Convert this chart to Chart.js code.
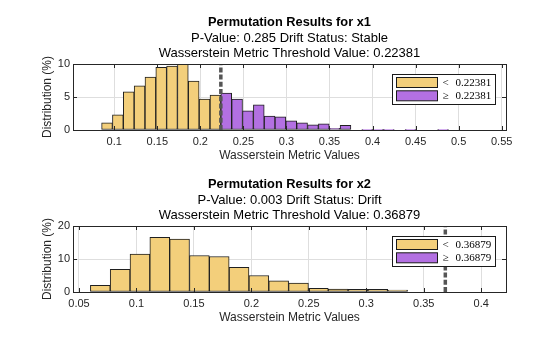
<!DOCTYPE html>
<html lang="en">
<head>
  <meta charset="UTF-8">
  <title>Permutation Results</title>
  <script src="https://cdn.jsdelivr.net/npm/chart.js"></script>
  <style>
    body {
      margin: 0;
      background: #fff;
    }
    .panel {
      position: absolute;
      left: 0;
      width: 560px;
    }
  </style>
</head>
<body>
  <div class="panel" style="top: 0px;"><canvas id="chartX1" width="560" height="166"></canvas></div>
  <div class="panel" style="top: 162px;"><canvas id="chartX2" width="560" height="166"></canvas></div>

  <script>
    // x1 histogram (percent of permutations per bin)
    const binEdgesX1 = [0.0853, 0.0979, 0.1105, 0.1231, 0.1357, 0.1483, 0.1608, 0.1734, 0.1860, 0.1986,
      0.2112, 0.2238, 0.2364, 0.2490, 0.2616, 0.2742, 0.2867, 0.2993, 0.3119, 0.3245, 0.3371,
      0.3497, 0.3623, 0.3749, 0.3875, 0.4001, 0.4126, 0.4252, 0.4378, 0.4504, 0.4630, 0.4756, 0.4882];
    const belowX1 = [1.1, 2.3, 5.8, 6.7, 8.0, 9.5, 9.7, 10.0, 7.4, 4.7, 5.3];
    const aboveX1 = [5.6, 4.7, 2.9, 3.8, 2.1, 2.0, 1.4, 1.1, 0.8, 0.95, 0.25, 0.7, 0, 0.1, 0.1, 0.1, 0, 0.1, 0, 0, 0.1];
    const thresholdX1 = 0.22381;
    const xTicksX1 = [0.1, 0.15, 0.2, 0.25, 0.3, 0.35, 0.4, 0.45, 0.5, 0.55];
    const yTicksX1 = [0, 5, 10];

    // x2 histogram
    const binEdgesX2 = [0.0599, 0.0772, 0.0944, 0.1117, 0.1289, 0.1462, 0.1634, 0.1807, 0.1979,
      0.2152, 0.2324, 0.2497, 0.2669, 0.2842, 0.3014, 0.3187, 0.3359];
    const belowX2 = [2.0, 6.9, 11.5, 16.6, 16.0, 11.05, 10.75, 7.5, 5.0, 3.35, 2.7, 1.1, 0.9, 0.8, 0.8, 0.6];
    const aboveX2 = [];
    const thresholdX2 = 0.36879;
    const xTicksX2 = [0.05, 0.1, 0.15, 0.2, 0.25, 0.3, 0.35, 0.4];
    const yTicksX2 = [0, 10, 20];

    const yellow = '#F3CF7B';
    const purple = '#B370E2';
    const axisColor = '#262626';

    function toBars(edges, values, offset) {
      return values.map((v, i) => ({ x: (edges[offset + i] + edges[offset + i + 1]) / 2, y: v }));
    }

    // box, inward tick marks and legend like the MATLAB axes
    const axesDecor = {
      id: 'axesDecor',
      afterDraw(chart, args, opts) {
        const { ctx, chartArea: a, scales } = chart;
        ctx.save();
        ctx.strokeStyle = axisColor;
        ctx.lineWidth = 1;
        ctx.strokeRect(Math.round(a.left) + 0.5, Math.round(a.top) + 0.5,
          Math.round(a.right - a.left), Math.round(a.bottom - a.top));
        ctx.beginPath();
        scales.x.ticks.forEach(t => {
          const px = Math.round(scales.x.getPixelForValue(t.value)) + 0.5;
          ctx.moveTo(px, a.bottom); ctx.lineTo(px, a.bottom - 4);
          ctx.moveTo(px, a.top); ctx.lineTo(px, a.top + 4);
        });
        scales.y.ticks.forEach(t => {
          const py = Math.round(scales.y.getPixelForValue(t.value)) + 0.5;
          ctx.moveTo(a.left, py); ctx.lineTo(a.left + 4, py);
          ctx.moveTo(a.right, py); ctx.lineTo(a.right - 4, py);
        });
        ctx.stroke();

        // legend
        const w = 103, h = 30;
        const bx = Math.round(a.right - 10.7 - w) + 0.5;
        const by = Math.round(a.top + 10.3) + 0.5;
        ctx.fillStyle = '#fff';
        ctx.fillRect(bx, by, w, h);
        ctx.strokeStyle = '#1a1a1a';
        ctx.strokeRect(bx, by, w, h);
        const items = [
          { color: yellow, sym: '<' },
          { color: purple, sym: '\u2265' }
        ];
        ctx.font = '11px "Liberation Serif", "DejaVu Serif", serif';
        ctx.textBaseline = 'middle';
        items.forEach((it, i) => {
          const sy = by + 3 + i * 13.3;
          ctx.fillStyle = it.color;
          ctx.fillRect(bx + 4, sy, 41, 10);
          ctx.strokeStyle = '#1a1a1a';
          ctx.strokeRect(bx + 4, sy, 41, 10);
          ctx.fillStyle = '#000';
          ctx.textAlign = 'left';
          ctx.fillText(it.sym, bx + 50, sy + 5.5);
          ctx.fillText(opts.threshold.toFixed(5), bx + 63, sy + 5.5);
        });
        ctx.restore();
      }
    };

    function makeChart(id, cfg) {
      const xTicks = cfg.xTicks, yTicks = cfg.yTicks;
      return new Chart(document.getElementById(id), {
        type: 'bar',
        data: {
          datasets: [
            {
              type: 'line',
              label: 'threshold',
              data: [{ x: cfg.threshold, y: 0 }, { x: cfg.threshold, y: yTicks[yTicks.length - 1] }],
              borderColor: '#555555',
              borderWidth: 3.5,
              borderDash: [5, 2.2],
              pointRadius: 0,
              order: -1
            },
            {
              label: '< ' + cfg.threshold,
              data: toBars(cfg.edges, cfg.below, 0),
              backgroundColor: yellow,
              borderColor: '#1f1f1f',
              borderWidth: 1,
              borderSkipped: false,
              grouped: false,
              categoryPercentage: 1,
              barPercentage: 1
            },
            {
              label: '\u2265 ' + cfg.threshold,
              data: toBars(cfg.edges, cfg.above, cfg.below.length),
              backgroundColor: purple,
              borderColor: '#1f1f1f',
              borderWidth: 1,
              borderSkipped: false,
              grouped: false,
              categoryPercentage: 1,
              barPercentage: 1
            }
          ]
        },
        options: {
          responsive: false,
          animation: false,
          devicePixelRatio: 1,
          layout: { padding: { left: 0, right: 54, top: 0, bottom: 0 } },
          plugins: {
            legend: { display: false },
            tooltip: { enabled: false },
            title: {
              display: true,
              fullSize: false,
              text: cfg.title,
              color: '#000',
              font: { family: 'Liberation Sans', size: 12.8, weight: 'bold', lineHeight: 1.2 },
              padding: { top: 15, bottom: 1 }
            },
            subtitle: {
              display: true,
              fullSize: false,
              text: cfg.subtitle,
              color: '#000',
              font: { family: 'Liberation Sans', size: 13, lineHeight: 1.14 },
              padding: { top: 0, bottom: 3 }
            },
            axesDecor: { threshold: cfg.threshold }
          },
          scales: {
            x: {
              type: 'linear',
              min: cfg.xMin,
              max: cfg.xMax,
              offset: false,
              afterBuildTicks: s => { s.ticks = xTicks.map(v => ({ value: v })); },
              afterFit: s => { s.height = 36; },
              grid: { offset: false, color: '#dedede', drawTicks: false },
              border: { display: false },
              ticks: {
                padding: 5,
                maxRotation: 0,
                autoSkip: false,
                color: axisColor,
                font: { family: 'Liberation Sans', size: 11 },
                callback: v => String(+v.toFixed(3))
              },
              title: {
                display: true,
                text: 'Wasserstein Metric Values',
                color: axisColor,
                font: { family: 'Liberation Sans', size: 12 },
                padding: { top: 0, bottom: 3.5 }
              }
            },
            y: {
              min: yTicks[0],
              max: yTicks[yTicks.length - 1],
              afterBuildTicks: s => { s.ticks = yTicks.map(v => ({ value: v })); },
              afterFit: s => { s.width = 73; },
              grid: { color: '#dedede', drawTicks: false },
              border: { display: false },
              ticks: {
                padding: 3,
                color: axisColor,
                font: { family: 'Liberation Sans', size: 11 }
              },
              title: {
                display: true,
                text: 'Distribution (%)',
                color: axisColor,
                font: { family: 'Liberation Sans', size: 12 },
                padding: { top: 40.3, bottom: 0 }
              }
            }
          }
        },
        plugins: [axesDecor]
      });
    }

    makeChart('chartX1', {
      title: 'Permutation Results for x1',
      subtitle: ['P-Value: 0.285 Drift Status: Stable', 'Wasserstein Metric Threshold Value: 0.22381'],
      edges: binEdgesX1, below: belowX1, above: aboveX1,
      threshold: thresholdX1, xTicks: xTicksX1, yTicks: yTicksX1,
      xMin: 0.0521, xMax: 0.555
    });

    makeChart('chartX2', {
      title: 'Permutation Results for x2',
      subtitle: ['P-Value: 0.003 Drift Status: Drift', 'Wasserstein Metric Threshold Value: 0.36879'],
      edges: binEdgesX2, below: belowX2, above: aboveX2,
      threshold: thresholdX2, xTicks: xTicksX2, yTicks: yTicksX2,
      xMin: 0.0448, xMax: 0.4216
    });
  </script>
</body>
</html>
